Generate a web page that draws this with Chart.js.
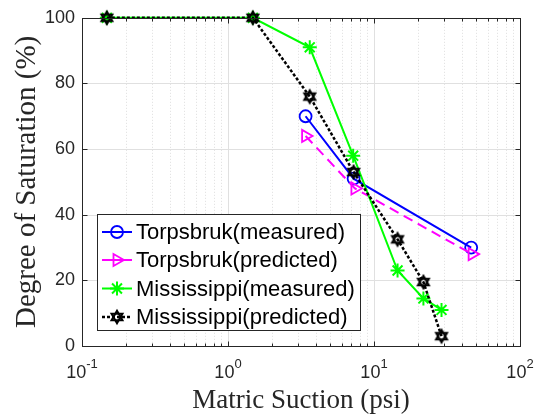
<!DOCTYPE html>
<html><head><meta charset="utf-8">
<script src="https://cdn.jsdelivr.net/npm/chart.js@4.4.0/dist/chart.umd.min.js"></script>
<style>html,body{margin:0;padding:0;background:#fff;}#wrap{width:535px;height:417px;position:relative;}</style>
</head><body><div id="wrap"><canvas id="c" width="535" height="417"></canvas></div>
<script>
// ---- data ----
const seriesNames = ['Torpsbruk(measured)', 'Torpsbruk(predicted)', 'Mississippi(measured)', 'Mississippi(predicted)'];
const torpMeasX = [3.4, 7.25, 46.3];
const torpMeasY = [70, 51, 30];
const torpPredX = [3.4, 7.4, 47];
const torpPredY = [64, 48, 28];
const missMeasX = [0.148, 1.48, 3.63, 7.2, 14.5, 21.8, 29];
const missMeasY = [100, 100, 91, 58, 23, 14.5, 11];
const missPredX = [0.148, 1.48, 3.63, 7.25, 14.5, 21.8, 29];
const missPredY = [100, 100, 76, 53, 32.5, 19.5, 3];
const xTickExps = [-1, 0, 1, 2];
const yTickValues = [0, 20, 40, 60, 80, 100];
const xTitle = 'Matric Suction (psi)';
const yTitle = 'Degree of Saturation (%)';

const pts = (xs, ys) => xs.map((v, i) => ({x: v, y: ys[i]}));

// hexagram marker
function makeHex(){
  const c = document.createElement('canvas');
  c.width = 18; c.height = 18;
  const g = c.getContext('2d');
  const cx = 9, cy = 9, R = 6.3;
  g.strokeStyle = '#000'; g.lineWidth = 2; g.lineJoin = 'miter';
  [-90, 90].forEach(a0 => {
    g.beginPath();
    for (let k = 0; k < 3; k++) {
      const a = (a0 + k * 120) * Math.PI / 180;
      const px = cx + R * Math.cos(a), py = cy + R * Math.sin(a);
      k ? g.lineTo(px, py) : g.moveTo(px, py);
    }
    g.closePath(); g.stroke();
  });
  return c;
}
const hexImg = makeHex();

const AX = '#262626';

const datasets = [
  {label: seriesNames[0], data: pts(torpMeasX, torpMeasY), borderColor: '#0000ff', backgroundColor: 'rgba(0,0,0,0)',
   borderWidth: 2, pointStyle: 'circle', pointRadius: 6, pointBorderWidth: 1.8, order: 4},
  {label: seriesNames[1], data: pts(torpPredX, torpPredY), borderColor: '#ff00ff', backgroundColor: 'rgba(0,0,0,0)',
   borderWidth: 2, borderDash: [10, 6], pointStyle: 'triangle', pointRotation: 90, pointRadius: 7, pointBorderWidth: 1.8, order: 3},
  {label: seriesNames[2], data: pts(missMeasX, missMeasY), borderColor: '#00ff00', backgroundColor: 'rgba(0,0,0,0)',
   borderWidth: 2, pointStyle: 'star', pointRadius: 7, pointBorderWidth: 2, order: 2},
  {label: seriesNames[3], data: pts(missPredX, missPredY), borderColor: '#000000', backgroundColor: 'rgba(0,0,0,0)',
   borderWidth: 2.5, borderDash: [3, 2], pointStyle: hexImg, pointRadius: 7, order: 1}
];

const gridPlugin = {
  id: 'gridPlugin',
  beforeDatasetsDraw(chart){
    const {ctx, chartArea: {left, right, top, bottom}, scales: {x, y}} = chart;
    ctx.save();
    ctx.lineWidth = 1;
    ctx.strokeStyle = '#dedede'; ctx.setLineDash([1, 2]);
    for (let e = xTickExps[0]; e < xTickExps[xTickExps.length - 1]; e++) {
      for (let m = 2; m <= 9; m++) {
        const px = Math.round(x.getPixelForValue(m * Math.pow(10, e))) + 0.5;
        ctx.beginPath(); ctx.moveTo(px, top); ctx.lineTo(px, bottom); ctx.stroke();
      }
    }
    ctx.setLineDash([]);
    ctx.strokeStyle = '#e0e0e0';
    xTickExps.slice(1, -1).forEach(e => {
      const px = Math.round(x.getPixelForValue(Math.pow(10, e))) + 0.5;
      ctx.beginPath(); ctx.moveTo(px, top); ctx.lineTo(px, bottom); ctx.stroke();
    });
    yTickValues.slice(1, -1).forEach(v => {
      const py = Math.round(y.getPixelForValue(v)) + 0.5;
      ctx.beginPath(); ctx.moveTo(left, py); ctx.lineTo(right, py); ctx.stroke();
    });
    ctx.restore();
  },
  afterDatasetsDraw(chart){
    const {ctx, chartArea: {left, right, top, bottom}, scales: {x, y}} = chart;
    ctx.save();
    ctx.strokeStyle = AX; ctx.lineWidth = 1; ctx.setLineDash([]);
    const L = Math.round(left) + 0.5, R = Math.round(right) + 0.5, T = Math.round(top) + 0.5, B = Math.round(bottom) + 0.5;
    ctx.strokeRect(L, T, R - L, B - T);
    for (let e = xTickExps[0]; e <= xTickExps[xTickExps.length - 1]; e++) {
      for (let m = 1; m <= 9; m++) {
        if (e === xTickExps[xTickExps.length - 1] && m > 1) break;
        const px = Math.round(x.getPixelForValue(m * Math.pow(10, e))) + 0.5;
        const len = m === 1 ? 5 : 3;
        ctx.beginPath();
        ctx.moveTo(px, B); ctx.lineTo(px, B - len);
        ctx.moveTo(px, T); ctx.lineTo(px, T + len);
        ctx.stroke();
      }
    }
    yTickValues.forEach(v => {
      const py = Math.round(y.getPixelForValue(v)) + 0.5;
      ctx.beginPath();
      ctx.moveTo(L, py); ctx.lineTo(L + 5, py);
      ctx.moveTo(R, py); ctx.lineTo(R - 5, py);
      ctx.stroke();
    });
    ctx.restore();
  },
  afterDraw(chart){
    const {ctx, scales: {x}} = chart;
    ctx.save();
    ctx.fillStyle = AX; ctx.textBaseline = 'alphabetic'; ctx.textAlign = 'left';
    xTickExps.forEach(e => {
      const px = x.getPixelForValue(Math.pow(10, e));
      ctx.font = '18px "Liberation Sans", Arial, sans-serif';
      const w1 = ctx.measureText('10').width;
      ctx.font = '13px "Liberation Sans", Arial, sans-serif';
      const es = String(e);
      const w2 = ctx.measureText(es).width;
      const sx = px - (w1 + w2) / 2;
      ctx.font = '18px "Liberation Sans", Arial, sans-serif';
      ctx.fillText('10', sx, 378);
      ctx.font = '13px "Liberation Sans", Arial, sans-serif';
      ctx.fillText(es, sx + w1, 368);
    });
    // legend
    const bx = 97.5, by = 214.5, bw = 263, bh = 116;
    ctx.fillStyle = '#fff'; ctx.fillRect(bx, by, bw, bh);
    ctx.strokeStyle = AX; ctx.lineWidth = 1; ctx.strokeRect(bx, by, bw, bh);
    const rows = [232, 260, 288.5, 317];
    chart.data.datasets.forEach((ds, i) => {
      const cy = rows[i];
      ctx.save();
      ctx.strokeStyle = ds.borderColor; ctx.lineWidth = ds.borderWidth;
      ctx.setLineDash(i === 3 ? ds.borderDash : []);
      ctx.beginPath(); ctx.moveTo(102, cy); ctx.lineTo(132, cy); ctx.stroke();
      ctx.setLineDash([]);
      ctx.fillStyle = 'rgba(0,0,0,0)';
      ctx.lineWidth = ds.pointBorderWidth || 1.8;
      Chart.helpers.drawPoint(ctx, {pointStyle: ds.pointStyle, rotation: ds.pointRotation || 0,
        radius: ds.pointRadius, borderWidth: ds.pointBorderWidth || 1.8}, 117, cy);
      ctx.restore();
      ctx.fillStyle = '#000';
      ctx.font = '22px "Liberation Sans", Arial, sans-serif';
      ctx.textBaseline = 'middle'; ctx.textAlign = 'left';
      ctx.fillText(ds.label, 136, cy + 1);
    });
    ctx.restore();
  }
};

new Chart(document.getElementById('c'), {
  type: 'scatter',
  data: {datasets: datasets.map(d => Object.assign({showLine: true, fill: false, tension: 0, clip: false}, d))},
  options: {
    responsive: false, animation: false, devicePixelRatio: 1, events: [],
    layout: {padding: {top: 15, right: 15, left: 0, bottom: 0}},
    plugins: {legend: {display: false}, tooltip: {enabled: false}},
    scales: {
      x: {
        type: 'logarithmic', min: 0.1, max: 100,
        grid: {display: false, drawTicks: false}, border: {display: false},
        ticks: {display: false},
        title: {display: true, text: xTitle, color: AX, padding: 0,
          font: {family: '"Liberation Serif", "Times New Roman", serif', size: 27}},
        afterFit(s){ s.height = 71; }
      },
      y: {
        min: 0, max: 100,
        grid: {display: false, drawTicks: false}, border: {display: false},
        ticks: {stepSize: 20, color: AX, padding: 7,
          font: {family: '"Liberation Sans", Arial, sans-serif', size: 18}},
        afterBuildTicks(s){ s.ticks = yTickValues.map(v => ({value: v})); },
        title: {display: true, text: yTitle, color: AX, padding: {top: 10, bottom: 0},
          font: {family: '"Liberation Serif", "Times New Roman", serif', size: 29}},
        afterFit(s){ s.width = 82; }
      }
    }
  },
  plugins: [gridPlugin]
});
</script></body></html>
